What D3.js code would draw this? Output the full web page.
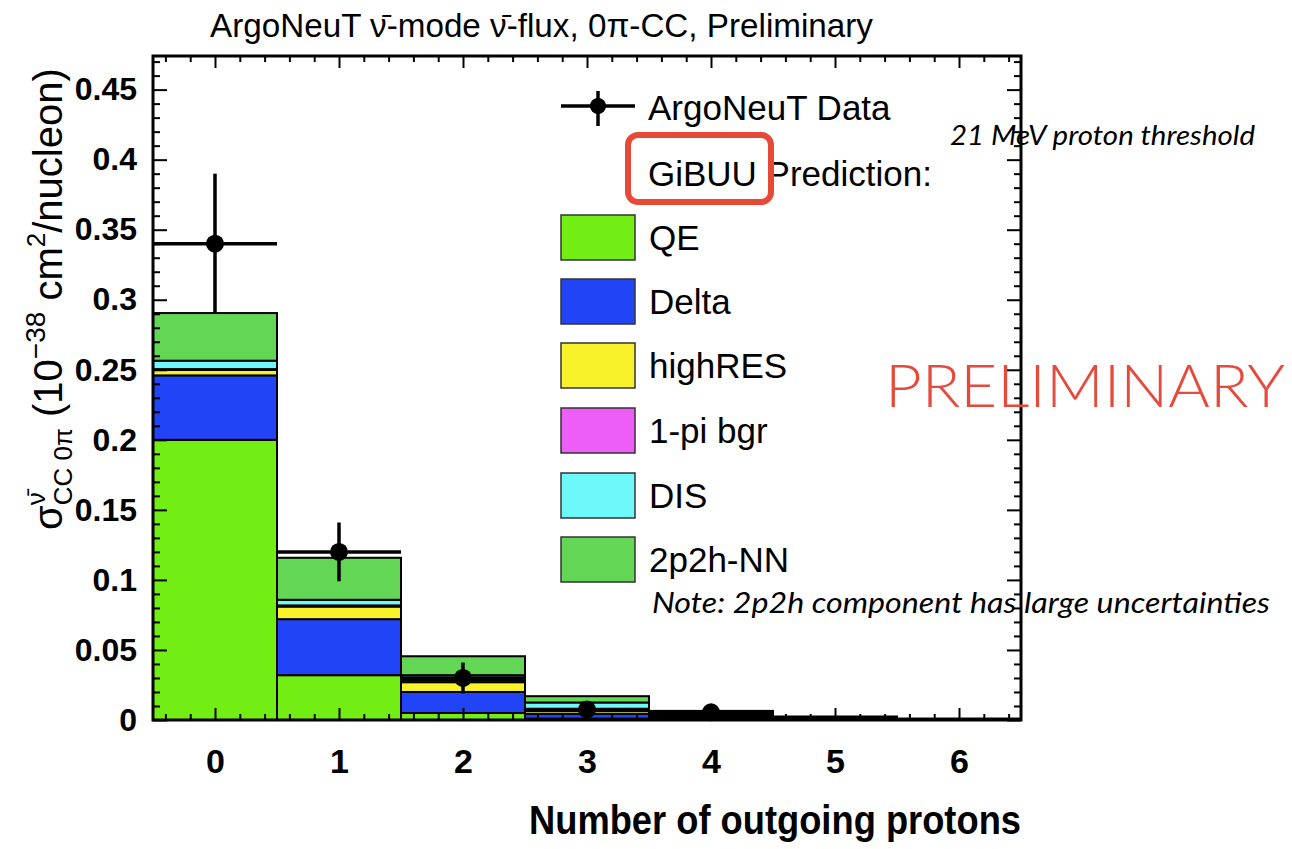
<!DOCTYPE html>
<html><head><meta charset="utf-8">
<script src="https://cdn.jsdelivr.net/npm/d3@7"></script>
<style>
body{margin:0;background:#fff}
svg{display:block}
</style>
</head><body>
<svg id="chart" width="1292" height="849"></svg>
<script>
// Bins: number of outgoing protons
const bins = [0, 1, 2, 3, 4, 5, 6];

// GiBUU prediction components (10^-38 cm^2/nucleon), stacked bottom to top
const qe       = [0.200, 0.032, 0.005, 0.001, 0.0003, 0.0001, 0.00005];
const delta    = [0.046, 0.040, 0.015, 0.0035, 0.0012, 0.0004, 0.0002];
const highRes  = [0.004, 0.009, 0.007, 0.002, 0.0008, 0.0003, 0.0001];
const onePiBgr = [0.0005, 0.0008, 0.0015, 0.001, 0.0005, 0.0002, 0.0001];
const dis      = [0.006, 0.004, 0.0035, 0.005, 0.0012, 0.0005, 0.0002];
const twoP2h   = [0.034, 0.030, 0.0135, 0.0045, 0.0025, 0.001, 0.0004];

const seriesNames  = ["QE", "Delta", "highRES", "1-pi bgr", "DIS", "2p2h-NN"];
const seriesColors = ["#72ee14", "#2244f7", "#f8f22a", "#ec5ef6", "#6ff8fa", "#63d655"];
const seriesValues = [qe, delta, highRes, onePiBgr, dis, twoP2h];

// ArgoNeuT measurement
const dataBins = [0, 1, 2, 3, 4];
const dataVals = [0.34, 0.12, 0.03, 0.0075, 0.0055];
const dataErrs = [0.05, 0.021, 0.011, 0.004, 0.003];

// Axis ticks
const xTicks = [0, 1, 2, 3, 4, 5, 6];
const xTickLabels = ["0", "1", "2", "3", "4", "5", "6"];
const yTicks = [0, 0.05, 0.1, 0.15, 0.2, 0.25, 0.3, 0.35, 0.4, 0.45];
const yTickLabels = ["0", "0.05", "0.1", "0.15", "0.2", "0.25", "0.3", "0.35", "0.4", "0.45"];

const svg = d3.select("#chart");
svg.append("rect").attr("width", 1292).attr("height", 849).attr("fill", "#fff");

const x = d3.scaleLinear().domain([-0.5, 6.5]).range([153, 1021]);
const y = d3.scaleLinear().domain([0, 0.474]).range([720, 56]);

// stacked histogram
const table = bins.map((b, i) => {
  const row = { bin: b };
  seriesNames.forEach((n, k) => row[n] = seriesValues[k][i]);
  return row;
});
const stacked = d3.stack().keys(seriesNames)(table);

const gBars = svg.append("g");
stacked.forEach((layer, k) => {
  gBars.selectAll(null).data(layer).join("rect")
    .attr("x", d => x(d.data.bin - 0.5))
    .attr("width", d => x(d.data.bin + 0.5) - x(d.data.bin - 0.5))
    .attr("y", d => y(d[1]))
    .attr("height", d => y(d[0]) - y(d[1]))
    .attr("fill", seriesColors[k])
    .attr("stroke", "#000")
    .attr("stroke-width", 2);
});

// data points with error bars
const gData = svg.append("g").attr("stroke", "#000").attr("stroke-width", 3.5);
dataBins.forEach((b, i) => {
  gData.append("line")
    .attr("x1", x(b - 0.5)).attr("x2", x(b + 0.5))
    .attr("y1", y(dataVals[i])).attr("y2", y(dataVals[i]));
  gData.append("line")
    .attr("x1", x(b)).attr("x2", x(b))
    .attr("y1", y(dataVals[i] + dataErrs[i])).attr("y2", y(Math.max(0, dataVals[i] - dataErrs[i])));
  gData.append("circle").attr("cx", x(b)).attr("cy", y(dataVals[i])).attr("r", 9)
    .attr("fill", "#000").attr("stroke", "none");
});

// axes with inward ticks on all four sides
const xMinor = d3.range(-4, 65, 2).map(v => v / 10).filter(v => Math.abs(v - Math.round(v)) > 1e-6);
const yMinor = d3.range(0, 48).map(v => v / 100).filter(v => (Math.round(v * 100) % 5) !== 0);

function styleAxis(g) {
  g.select(".domain").remove();
  g.selectAll(".tick line").attr("stroke", "#000").attr("stroke-width", 2);
}

svg.append("g").attr("transform", "translate(0,720)")
  .call(d3.axisBottom(x).tickValues(xMinor).tickSize(-6).tickFormat(""))
  .call(styleAxis);
svg.append("g").attr("transform", "translate(0,56)")
  .call(d3.axisTop(x).tickValues(xMinor).tickSize(-6).tickFormat(""))
  .call(styleAxis);
svg.append("g").attr("transform", "translate(0,56)")
  .call(d3.axisTop(x).tickValues(xTicks).tickSize(-12).tickFormat(""))
  .call(styleAxis);
const xAxis = svg.append("g").attr("transform", "translate(0,720)")
  .call(d3.axisBottom(x).tickValues(xTicks).tickSize(-12).tickPadding(29)
    .tickFormat((d, i) => xTickLabels[i]))
  .call(styleAxis);
xAxis.selectAll("text").attr("font-family", "Liberation Sans, Arial, sans-serif")
  .attr("font-weight", "bold").attr("font-size", 34).attr("fill", "#000");

svg.append("g").attr("transform", "translate(153,0)")
  .call(d3.axisLeft(y).tickValues(yMinor).tickSize(-7).tickFormat(""))
  .call(styleAxis);
svg.append("g").attr("transform", "translate(1021,0)")
  .call(d3.axisRight(y).tickValues(yMinor).tickSize(-7).tickFormat(""))
  .call(styleAxis);
svg.append("g").attr("transform", "translate(1021,0)")
  .call(d3.axisRight(y).tickValues(yTicks).tickSize(-14).tickFormat(""))
  .call(styleAxis);
const yAxis = svg.append("g").attr("transform", "translate(153,0)")
  .call(d3.axisLeft(y).tickValues(yTicks).tickSize(-14).tickPadding(16)
    .tickFormat((d, i) => yTickLabels[i]))
  .call(styleAxis);
yAxis.selectAll("text").attr("font-family", "Liberation Sans, Arial, sans-serif")
  .attr("font-weight", "bold").attr("font-size", 32).attr("fill", "#000");

// frame
svg.append("rect").attr("x", 153).attr("y", 56).attr("width", 868).attr("height", 664)
  .attr("fill", "none").attr("stroke", "#000").attr("stroke-width", 3);

// title
svg.append("text").attr("x", 210).attr("y", 37)
  .attr("font-family", "Liberation Sans, Arial, sans-serif").attr("font-size", 33)
  .attr("textLength", 663).attr("lengthAdjust", "spacingAndGlyphs")
  .text("ArgoNeuT \u03BD\u0304-mode \u03BD\u0304-flux, 0\u03C0-CC, Preliminary");

// x-axis title
svg.append("text").attr("x", 1021).attr("y", 834).attr("text-anchor", "end")
  .attr("font-family", "Liberation Sans, Arial, sans-serif").attr("font-weight", "bold")
  .attr("font-size", 40).attr("textLength", 492).attr("lengthAdjust", "spacingAndGlyphs")
  .text("Number of outgoing protons");

// y-axis title, built piece by piece along the rotated baseline
const yt = svg.append("g").attr("transform", "translate(62,530) rotate(-90)")
  .attr("font-family", "Liberation Sans, Arial, sans-serif").attr("fill", "#000");
let pos = 0;
function piece(txt, size, dy, advance = true) {
  const t = yt.append("text").attr("x", pos).attr("y", dy).attr("font-size", size)
    .style("white-space", "pre").text(txt);
  const w = t.node().getComputedTextLength();
  if (advance) pos += w;
  return w;
}
piece("\u03C3", 40, 0);
const wSup = piece("\u03BD\u0304", 26, -17, false);
const wSub = piece("CC 0\u03C0", 26, 10, false);
pos += Math.max(wSup, wSub);
piece("\u00A0(10", 40, 0);
piece("\u221238", 28, -17);
piece("\u00A0cm", 40, 0);
piece("2", 26, -17);
piece("/nucleon)", 40, 0);

// legend
const lg = svg.append("g").attr("font-family", "Liberation Sans, Arial, sans-serif").attr("fill", "#000");
lg.append("line").attr("x1", 561).attr("x2", 635).attr("y1", 106).attr("y2", 106)
  .attr("stroke", "#000").attr("stroke-width", 3.5);
lg.append("line").attr("x1", 598).attr("x2", 598).attr("y1", 91).attr("y2", 126)
  .attr("stroke", "#000").attr("stroke-width", 3.5);
lg.append("circle").attr("cx", 598).attr("cy", 106).attr("r", 8).attr("fill", "#000");
lg.append("text").attr("x", 648).attr("y", 120).attr("font-size", 35).text("ArgoNeuT Data");
lg.append("text").attr("x", 648).attr("y", 186).attr("font-size", 35).text("GiBUU Prediction:");
lg.append("rect").attr("x", 628).attr("y", 135).attr("width", 143).attr("height", 67)
  .attr("rx", 10).attr("fill", "none").attr("stroke", "#e64a36").attr("stroke-width", 6);

const boxTop = [215, 279, 343, 408, 473, 537];
seriesNames.forEach((n, k) => {
  lg.append("rect").attr("x", 561).attr("y", boxTop[k]).attr("width", 74).attr("height", 45)
    .attr("fill", seriesColors[k]).attr("stroke", "#333").attr("stroke-width", 1.5);
  lg.append("text").attr("x", 649).attr("y", boxTop[k] + 35).attr("font-size", 35).text(n);
});

// annotations
svg.append("text").attr("x", 950).attr("y", 145)
  .attr("font-family", "Lato, sans-serif").attr("font-style", "italic").attr("font-size", 27)
  .attr("textLength", 305).attr("lengthAdjust", "spacingAndGlyphs")
  .text("21 MeV proton threshold");
svg.append("text").attr("x", 652).attr("y", 613)
  .attr("font-family", "Lato, sans-serif").attr("font-style", "italic").attr("font-size", 28)
  .attr("textLength", 618).attr("lengthAdjust", "spacingAndGlyphs")
  .text("Note: 2p2h component has large uncertainties");
svg.append("text").attr("x", 885).attr("y", 407)
  .attr("font-family", "Lato, sans-serif").attr("font-weight", 300).attr("font-size", 60)
  .attr("fill", "#e54b3c")
  .attr("textLength", 400).attr("lengthAdjust", "spacingAndGlyphs")
  .text("PRELIMINARY");
</script>
</body></html>
